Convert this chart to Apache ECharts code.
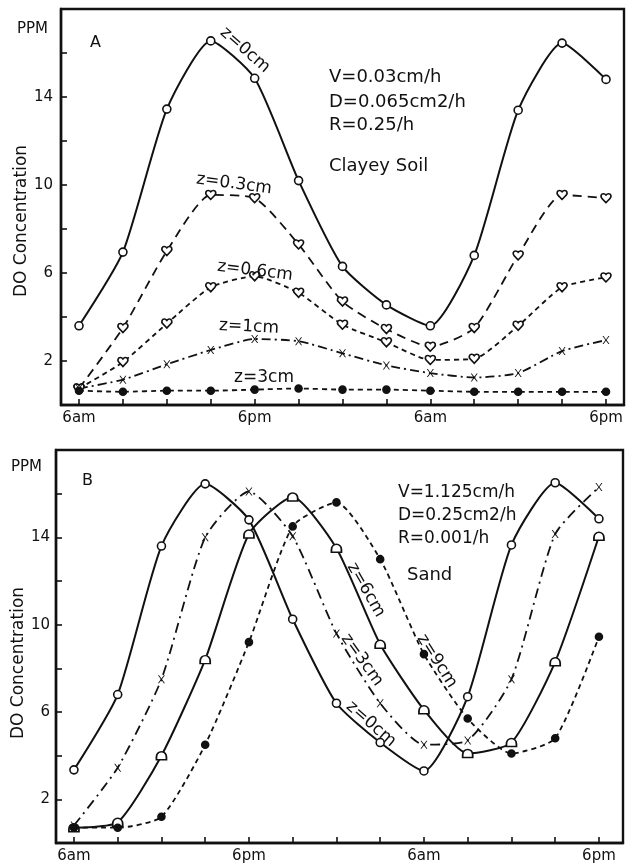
<!DOCTYPE html>
<html>
<head>
<meta charset="utf-8">
<script src="https://cdn.jsdelivr.net/npm/echarts@6/dist/echarts.min.js"></script>
<style>
html,body{margin:0;padding:0;background:#fff;}
#chart{width:628px;height:866px;}
</style>
</head>
<body>
<div id="chart"></div>
<script>
// hours after 6am (day 1)
const hours = [0, 3, 6, 9, 12, 15, 18, 21, 24, 27, 30, 33, 36];
const xTickValues = [0, 3, 6, 9, 12, 15, 18, 21, 24, 27, 30, 33, 36];
const xLabelValues = [0, 12, 24, 36];
const xLabelTexts = ['6am', '6pm', '6am', '6pm'];
const yTickValues = [2, 4, 6, 8, 10, 12, 14, 16];
const yLabelValues = [2, 6, 10, 14];

// Panel A: Clayey soil
const clay_z0  = [3.6, 6.95, 13.45, 16.55, 14.85, 10.2, 6.3, 4.55, 3.6, 6.8, 13.4, 16.45, 14.8];
const clay_z03 = [0.75, 3.5, 7.0, 9.55, 9.4, 7.3, 4.7, 3.45, 2.65, 3.5, 6.8, 9.55, 9.4];
const clay_z06 = [0.75, 1.95, 3.7, 5.35, 5.85, 5.1, 3.65, 2.85, 2.05, 2.1, 3.6, 5.35, 5.8];
const clay_z1  = [0.75, 1.15, 1.85, 2.5, 3.0, 2.9, 2.35, 1.8, 1.45, 1.25, 1.45, 2.45, 2.95];
const clay_z3  = [0.65, 0.6, 0.65, 0.65, 0.7, 0.75, 0.7, 0.7, 0.65, 0.6, 0.6, 0.6, 0.6];

// Panel B: Sand
const sand_z0 = [3.35, 6.8, 13.6, 16.45, 14.8, 10.25, 6.4, 4.6, 3.3, 6.7, 13.65, 16.5, 14.85];
const sand_z3 = [0.8, 3.45, 7.5, 14.0, 16.1, 14.05, 9.6, 6.4, 4.5, 4.7, 7.5, 14.15, 16.3];
const sand_z6 = [0.7, 0.95, 4.0, 8.4, 14.15, 15.85, 13.5, 9.1, 6.1, 4.1, 4.6, 8.3, 14.05];
const sand_z9 = [0.7, 0.7, 1.2, 4.5, 9.2, 14.5, 15.6, 13.0, 8.65, 5.7, 4.1, 4.8, 9.45];

const FONT = 'DejaVu Sans';
const INK = '#111';

const SYM_HEART = 'path://M5,9.5 L1.2,5.2 C-0.6,3.2 0.4,0.3 2.7,0.4 C4,0.5 5,1.8 5,1.8 C5,1.8 6,0.5 7.3,0.4 C9.6,0.3 10.6,3.2 8.8,5.2 Z';
const SYM_DOME = 'path://M0,8 L0,6 C0,0.5 10,0.5 10,6 L10,8 Z';
const SYM_X = 'path://M0,0 L1.5,0 L5,4.1 L8.5,0 L10,0 L5.8,5 L10,10 L8.5,10 L5,5.9 L1.5,10 L0,10 L4.2,5 Z';

function pairs(vals) { return hours.map((h, i) => [h, vals[i]]); }

function mkSeries(name, vals, gi, lineType, symbol, size, fill, lw, bw) {
  return {
    name: name, type: 'line', xAxisIndex: gi, yAxisIndex: gi,
    data: pairs(vals), smooth: 0.2,
    symbol: symbol, symbolSize: size, showSymbol: true,
    lineStyle: { color: INK, width: lw || 1.8, type: lineType },
    itemStyle: { color: fill, borderColor: INK, borderWidth: bw == null ? 1.6 : bw },
    emphasis: { disabled: true }, z: 3, animation: false
  };
}

function xAx(gi, min, max) {
  return {
    gridIndex: gi, type: 'value', min: min, max: max,
    splitLine: { show: false },
    axisLine: { show: true, onZero: false, lineStyle: { color: INK, width: 2.4 } },
    axisTick: { show: true, inside: true, length: 6, customValues: xTickValues, lineStyle: { color: INK, width: 1.6 } },
    axisLabel: { customValues: xLabelValues, margin: 6, color: INK, fontFamily: FONT, fontSize: 15,
      formatter: v => xLabelTexts[xLabelValues.indexOf(Math.round(v))] || '' }
  };
}
function yAx(gi, margin) {
  return {
    gridIndex: gi, type: 'value', min: 0, max: 18,
    splitLine: { show: false },
    axisLine: { show: true, onZero: false, lineStyle: { color: INK, width: 2.4 } },
    axisTick: { show: true, inside: true, length: 6, customValues: yTickValues, lineStyle: { color: INK, width: 1.6 } },
    axisLabel: { customValues: yLabelValues, margin: margin, color: INK, fontFamily: FONT, fontSize: 15 }
  };
}

function txt(x, y, s, opts) {
  opts = opts || {};
  return {
    type: 'text', x: x, y: y, rotation: opts.rot || 0, z: 10,
    style: { text: s, fill: INK, font: (opts.bold ? 'bold ' : '') + (opts.size || 16) + 'px "' + FONT + '"',
      align: opts.align || 'left', verticalAlign: opts.va || 'middle' }
  };
}

const chart = echarts.init(document.getElementById('chart'), null, { renderer: 'canvas' });
chart.setOption({
  backgroundColor: '#fff',
  animation: false,
  grid: [
    { left: 61, top: 9, width: 563, height: 396, show: true, borderColor: INK, borderWidth: 2.4, backgroundColor: 'transparent' },
    { left: 56, top: 450, width: 567, height: 393, show: true, borderColor: INK, borderWidth: 2.4, backgroundColor: 'transparent' }
  ],
  xAxis: [xAx(0, -1.23, 37.23), xAx(1, -1.23, 37.65)],
  yAxis: [yAx(0, 8), yAx(1, 6)],
  series: [
    mkSeries('A z=0cm', clay_z0, 0, 'solid', 'circle', 8, '#fff', 2),
    mkSeries('A z=0.3cm', clay_z03, 0, [9, 6], SYM_HEART, [10, 9], '#fff'),
    mkSeries('A z=0.6cm', clay_z06, 0, [5, 4], SYM_HEART, [10, 9], '#fff'),
    mkSeries('A z=1cm', clay_z1, 0, [9, 4, 2, 4], SYM_X, [7, 8], INK, 1.8, 0),
    mkSeries('A z=3cm', clay_z3, 0, [5, 4], 'circle', 7, INK),
    mkSeries('B z=0cm', sand_z0, 1, 'solid', 'circle', 8, '#fff', 2),
    mkSeries('B z=3cm', sand_z3, 1, [10, 5, 2, 5], SYM_X, [7, 8], INK, 1.8, 0),
    mkSeries('B z=6cm', sand_z6, 1, 'solid', SYM_DOME, [10, 8], '#fff', 2),
    mkSeries('B z=9cm', sand_z9, 1, [5, 4], 'circle', 7, INK)
  ],
  graphic: [
    // Panel A
    txt(17, 29, 'PPM', { size: 15 }),
    txt(90, 43, 'A', { size: 16 }),
    txt(22, 221, 'DO Concentration', { size: 17, rot: Math.PI / 2, align: 'center' }),
    txt(329, 77, 'V=0.03cm/h', { size: 18 }),
    txt(329, 102, 'D=0.065cm2/h', { size: 18 }),
    txt(329, 125, 'R=0.25/h', { size: 18 }),
    txt(329, 166, 'Clayey Soil', { size: 18 }),
    txt(245, 50, 'z=0cm', { size: 17, rot: -0.72, align: 'center' }),
    txt(234, 184, 'z=0.3cm', { size: 17, rot: -0.13, align: 'center' }),
    txt(255, 271, 'z=0.6cm', { size: 17, rot: -0.12, align: 'center' }),
    txt(249, 327, 'z=1cm', { size: 17, rot: -0.05, align: 'center' }),
    txt(264, 378, 'z=3cm', { size: 17, align: 'center' }),
    // Panel B
    txt(11, 467, 'PPM', { size: 15 }),
    txt(82, 481, 'B', { size: 16 }),
    txt(19, 663, 'DO Concentration', { size: 17, rot: Math.PI / 2, align: 'center' }),
    txt(398, 493, 'V=1.125cm/h', { size: 17 }),
    txt(398, 516, 'D=0.25cm2/h', { size: 17 }),
    txt(398, 539, 'R=0.001/h', { size: 17 }),
    txt(407, 575, 'Sand', { size: 18 }),
    txt(366, 590, 'z=6cm', { size: 17, rot: -1.05, align: 'center' }),
    txt(437, 661, 'z=9cm', { size: 17, rot: -1.0, align: 'center' }),
    txt(362, 660, 'z=3cm', { size: 17, rot: -0.95, align: 'center' }),
    txt(371, 724, 'z=0cm', { size: 17, rot: -0.72, align: 'center' })
  ]
});
</script>
</body>
</html>
